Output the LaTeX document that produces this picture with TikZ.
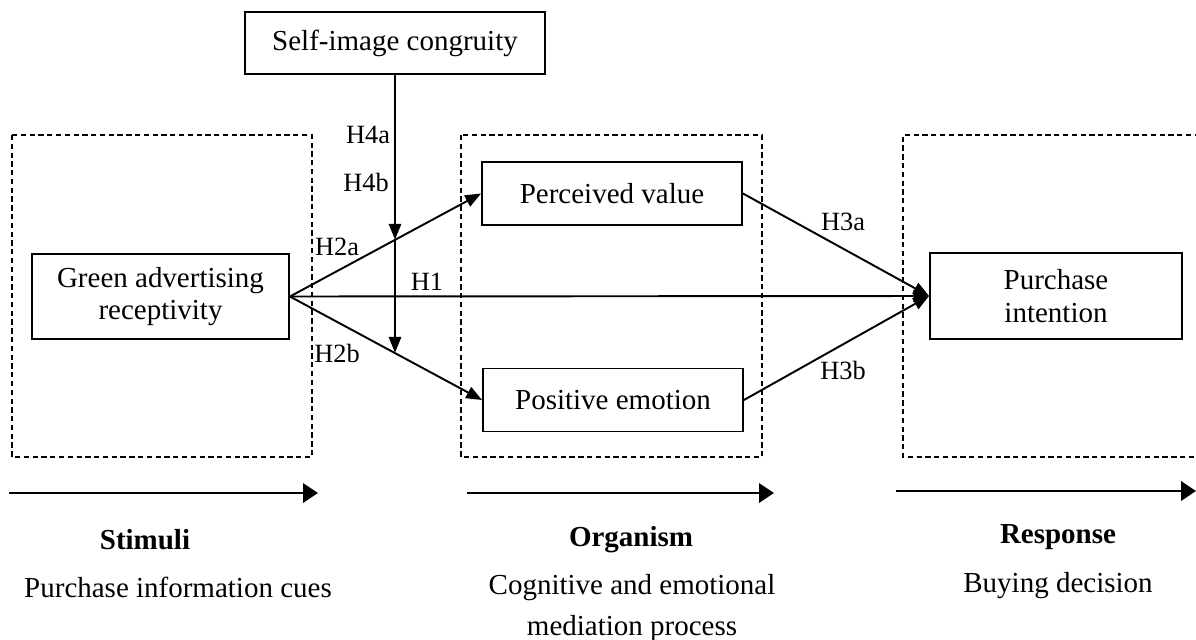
\documentclass[tikz,border=0pt]{standalone}
\usepackage{fontspec}
\setmainfont{Liberation Serif}
\usetikzlibrary{arrows.meta}

\begin{document}
\begin{tikzpicture}[
		x=0.02cm, y=-0.02cm,
		every node/.style={
				font=\fontsize{16.5}{18.5}\selectfont,
				align=center,
				inner sep=0pt
			},
		box/.style={
				draw,
				line width=1.1pt
			},
		frame/.style={
				draw,
				line width=0.8pt,
				dash pattern=on 3pt off 2pt
			},
		link/.style={
				line width=1.1pt,
				-{Triangle[length=9pt,width=7pt]}
			},
		hyp/.style={
				font=\fontsize{15}{17}\selectfont
			},
		flow/.style={
				line width=1.3pt,
				-{Triangle[length=8.5pt,width=11pt]}
			}
	]
	\useasboundingbox (0,0) rectangle (1196,639);

	% stage frames
	\draw[frame] (12,135) rectangle (312,457);
	\draw[frame] (461,135) rectangle (762,457);
	\draw[frame] (1200,135) -- (903,135) -- (903,457) -- (1200,457);

	% constructs
	\node[box, minimum width=6cm, minimum height=1.24cm] (self) at (395,43) {Self-image congruity};
	\node[box, minimum width=5.14cm, minimum height=1.7cm] (green) at (160.5,296.5) {Green advertising\\receptivity};
	\node[box, minimum width=5.2cm, minimum height=1.26cm] (value) at (612,193.5) {Perceived value};
	\node[box, minimum width=5.2cm, minimum height=1.26cm] (emotion) at (613,400) {Positive emotion};
	\node[box, minimum width=5.04cm, minimum height=1.72cm] (intention) at (1056,296) {Purchase\\intention};

	% moderation points
	\coordinate (m1) at (395,239.7);
	\coordinate (m2) at (395,352.8);

	% hypotheses
	\draw[link] (green.east) -- (intention.west);
	\draw[link] (green.east) -- (value.west);
	\draw[link] (green.east) -- (emotion.west);
	\draw[link] (value.east) -- (intention.west);
	\draw[link] (emotion.east) -- (intention.west);
	\draw[link] (self.south) -- (m1);
	\draw[link] (m1) -- (m2);

	\node[hyp] (h4a) at (368,135) {H4a};
	\node[hyp] (h4b) at (366,182) {H4b};
	\node[hyp] (h2a) at (337,247) {H2a};
	\node[hyp] (h1) at (427,282) {H1};
	\node[hyp] (h2b) at (337,353) {H2b};
	\node[hyp] (h3a) at (843,222) {H3a};
	\node[hyp] (h3b) at (843,370) {H3b};

	% S-O-R flow
	\draw[flow] (9,493) -- (318,493);
	\draw[flow] (467,493) -- (774,493);
	\draw[flow] (896,491) -- (1196,491);

	\node[font=\fontsize{16.5}{18.5}\selectfont\bfseries] (stimuli) at (145,540) {Stimuli};
	\node (cues) at (178,587) {Purchase information cues};
	\node[font=\fontsize{16.5}{18.5}\selectfont\bfseries] (organism) at (631,540) {Organism};
	\node[font=\fontsize{16.5}{23}\selectfont] (process) at (632,608) {Cognitive and emotional\\mediation process};
	\node[font=\fontsize{16.5}{18.5}\selectfont\bfseries] (response) at (1058,537) {Response};
	\node (decision) at (1058,586) {Buying decision};
\end{tikzpicture}
\end{document}
